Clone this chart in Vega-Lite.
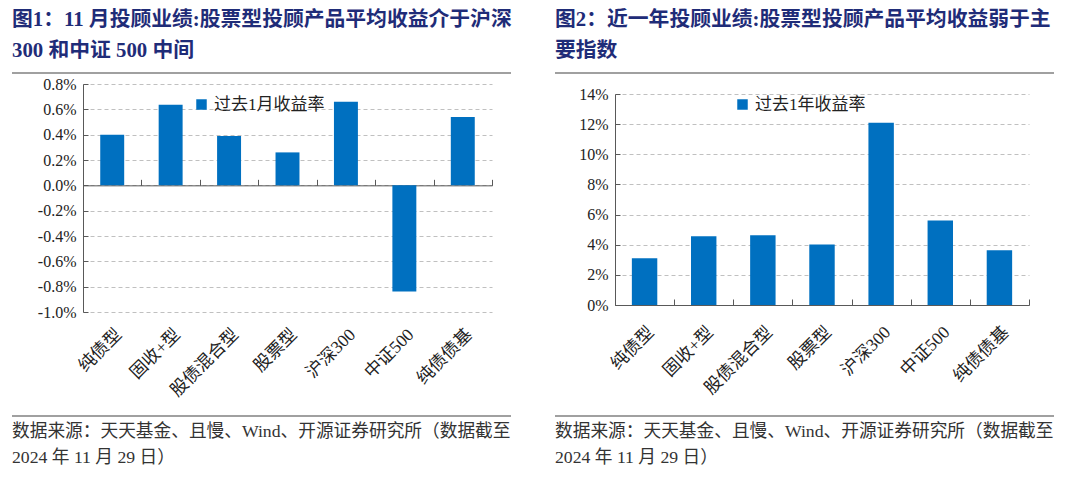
{
  "$schema": "https://vega.github.io/schema/vega-lite/v6.json",
  "background": "white",
  "padding": {"left": 11, "top": 9, "right": 0, "bottom": 0},
  "config": {
    "view": {"stroke": null},
    "font": "Liberation Serif, Noto Sans CJK SC",
    "title": {"font": "Liberation Serif, Noto Sans CJK SC"},
    "axis": {"labelFont": "Liberation Serif, Noto Sans CJK SC"},
    "legend": {"labelFont": "Liberation Serif, Noto Sans CJK SC"}
  },
  "resolve": {"scale": {"color": "independent"}, "legend": {"color": "independent"}},
  "spacing": 42,
  "hconcat": [
    {
      "vconcat": [
        {
          "width": 409,
          "height": 1,
          "title": {"text": ["图1：11 月投顾业绩:股票型投顾产品平均收益介于沪深", "300 和中证 500 中间"], "anchor": "start", "frame": "group", "dx": -71, "fontSize": 20.8, "fontWeight": "bold", "color": "#1F2C78", "lineHeight": 31, "offset": 10},
          "data": {"values": [{}]},
          "mark": {"type": "rule", "color": "#808080", "strokeWidth": 1.5},
          "encoding": {
            "x": {"datum": -0.1736, "type": "quantitative", "scale": {"domain": [0, 1], "nice": false, "zero": false}, "axis": null},
            "x2": {"datum": 1.0465},
            "y": {"datum": 0, "type": "quantitative", "scale": {"domain": [0, 1]}, "axis": null}
          }
        },
        {
          "width": 409,
          "height": 228,
          "data": {"values": [
            {"类别": "纯债型", "收益率": 0.40},
            {"类别": "固收+型", "收益率": 0.636},
            {"类别": "股债混合型", "收益率": 0.389},
            {"类别": "股票型", "收益率": 0.26},
            {"类别": "沪深300", "收益率": 0.66},
            {"类别": "中证500", "收益率": -0.839},
            {"类别": "纯债债基", "收益率": 0.539}
          ]},
          "mark": {"type": "bar", "width": {"band": 0.41}},
          "encoding": {
            "x": {"field": "类别", "type": "nominal", "sort": null,
              "scale": {"paddingInner": 0, "paddingOuter": 0},
              "axis": {"title": null, "orient": "bottom", "offset": -126.67, "labelAngle": -45, "labelFontSize": 17.5, "labelPadding": 146, "labelOverlap": false, "tickBand": "extent", "ticks": true, "tickSize": -6, "domainColor": "#595959", "tickColor": "#595959", "labelColor": "#222222", "grid": false}},
            "y": {"field": "收益率", "type": "quantitative",
              "scale": {"domain": [-1, 0.8], "nice": false, "zero": false},
              "axis": {"title": null, "values": [-1, -0.8, -0.6, -0.4, -0.2, 0, 0.2, 0.4, 0.6, 0.8], "labelExpr": "(datum.value < -0.0001 ? '-' : '') + format(abs(datum.value), '.1f') + '%'", "labelFontSize": 16, "labelPadding": 12, "ticks": true, "tickSize": -5, "domainColor": "#595959", "tickColor": "#595959", "labelColor": "#222222", "grid": true, "gridDash": [4, 3], "gridColor": "#c0c0c0"}},
            "color": {"datum": "过去1月收益率", "scale": {"range": ["#0070C0"]},
              "legend": {"title": null, "orient": "none", "legendX": 110, "legendY": 24, "symbolType": "square", "symbolSize": 110, "symbolStrokeWidth": 0, "labelFontSize": 17, "labelColor": "#222222", "padding": 0, "labelOffset": 4}}
          }
        },
        {
          "width": 409,
          "height": 14,
          "title": {"text": ["数据来源：天天基金、且慢、Wind、开源证券研究所（数据截至", "2024 年 11 月 29 日）"], "orient": "bottom", "anchor": "start", "frame": "group", "dx": -71, "fontSize": 17.7, "fontWeight": "normal", "color": "#333333", "lineHeight": 26, "offset": 6},
          "data": {"values": [{}]},
          "mark": {"type": "rule", "color": "#808080", "strokeWidth": 1.5},
          "encoding": {
            "x": {"datum": -0.1736, "type": "quantitative", "scale": {"domain": [0, 1], "nice": false, "zero": false}, "axis": null},
            "x2": {"datum": 1.0465},
            "y": {"datum": 0, "type": "quantitative", "scale": {"domain": [0, 1]}, "axis": null}
          }
        }
      ],
      "spacing": 2
    },
    {
      "vconcat": [
        {
          "width": 414,
          "height": 1,
          "title": {"text": ["图2：近一年投顾业绩:股票型投顾产品平均收益弱于主", "要指数"], "anchor": "start", "frame": "group", "dx": -60, "fontSize": 20.8, "fontWeight": "bold", "color": "#1F2C78", "lineHeight": 31, "offset": 10},
          "data": {"values": [{}]},
          "mark": {"type": "rule", "color": "#808080", "strokeWidth": 1.5},
          "encoding": {
            "x": {"datum": -0.1449, "type": "quantitative", "scale": {"domain": [0, 1], "nice": false, "zero": false}, "axis": null},
            "x2": {"datum": 1.0604},
            "y": {"datum": 0, "type": "quantitative", "scale": {"domain": [0, 1]}, "axis": null}
          }
        },
        {
          "width": 414,
          "height": 211,
          "data": {"values": [
            {"类别": "纯债型", "收益率": 3.10},
            {"类别": "固收+型", "收益率": 4.56},
            {"类别": "股债混合型", "收益率": 4.63},
            {"类别": "股票型", "收益率": 4.01},
            {"类别": "沪深300", "收益率": 12.09},
            {"类别": "中证500", "收益率": 5.60},
            {"类别": "纯债债基", "收益率": 3.63}
          ]},
          "mark": {"type": "bar", "width": {"band": 0.43}},
          "encoding": {
            "x": {"field": "类别", "type": "nominal", "sort": null,
              "scale": {"paddingInner": 0, "paddingOuter": 0},
              "axis": {"title": null, "orient": "bottom", "labelAngle": -45, "labelFontSize": 17.5, "labelPadding": 24, "labelOverlap": false, "tickBand": "extent", "ticks": true, "tickSize": -6, "domainColor": "#595959", "tickColor": "#595959", "labelColor": "#222222", "grid": false}},
            "y": {"field": "收益率", "type": "quantitative",
              "scale": {"domain": [0, 14], "nice": false},
              "axis": {"title": null, "values": [0, 2, 4, 6, 8, 10, 12, 14], "labelExpr": "format(datum.value, 'd') + '%'", "labelFontSize": 16, "labelPadding": 12, "ticks": true, "tickSize": -5, "domainColor": "#595959", "tickColor": "#595959", "labelColor": "#222222", "grid": true, "gridDash": [4, 3], "gridColor": "#c0c0c0"}},
            "color": {"datum": "过去1年收益率", "scale": {"range": ["#0070C0"]},
              "legend": {"title": null, "orient": "none", "legendX": 119, "legendY": 24, "symbolType": "square", "symbolSize": 110, "symbolStrokeWidth": 0, "labelFontSize": 17, "labelColor": "#222222", "padding": 0, "labelOffset": 4}}
          }
        },
        {
          "width": 414,
          "height": 6,
          "title": {"text": ["数据来源：天天基金、且慢、Wind、开源证券研究所（数据截至", "2024 年 11 月 29 日）"], "orient": "bottom", "anchor": "start", "frame": "group", "dx": -60, "fontSize": 17.7, "fontWeight": "normal", "color": "#333333", "lineHeight": 26, "offset": 6},
          "data": {"values": [{}]},
          "mark": {"type": "rule", "color": "#808080", "strokeWidth": 1.5},
          "encoding": {
            "x": {"datum": -0.1449, "type": "quantitative", "scale": {"domain": [0, 1], "nice": false, "zero": false}, "axis": null},
            "x2": {"datum": 1.0604},
            "y": {"datum": 0, "type": "quantitative", "scale": {"domain": [0, 1]}, "axis": null}
          }
        }
      ],
      "spacing": 12
    }
  ]
}
